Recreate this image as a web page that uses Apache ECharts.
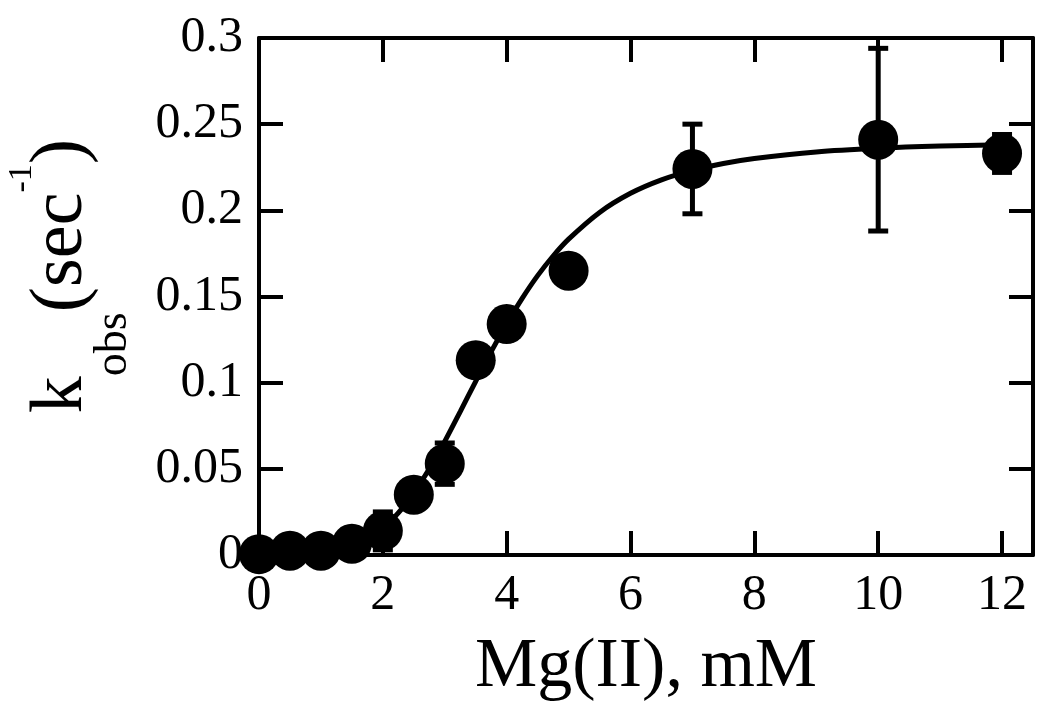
<!DOCTYPE html>
<html><head><meta charset="utf-8">
<script src="https://cdn.jsdelivr.net/npm/echarts@6/dist/echarts.min.js"></script>
<style>html,body{margin:0;padding:0;background:#fff}#c{width:1050px;height:716px}</style>
</head><body><div id="c"></div>
<script>
const mgConc = [0, 0.5, 1, 1.5, 2, 2.5, 3, 3.5, 4, 5, 7, 10, 12];
const kObs   = [0.0005, 0.0025, 0.0025, 0.0065, 0.014, 0.035, 0.053, 0.113, 0.134, 0.165, 0.224, 0.241, 0.233];
const kErr   = [0, 0, 0, 0, 0.011, 0, 0.012, 0, 0, 0, 0.026, 0.053, 0.011];
const fitX = [0, 0.5, 1, 1.5, 2, 2.25, 2.5, 2.75, 3, 3.25, 3.5, 3.75, 4, 4.25, 4.5, 4.75, 5, 5.5, 6, 6.5, 7, 7.5, 8, 9, 10, 11, 12];
const fitY = [0, 0.0001, 0.0009, 0.0048, 0.0155, 0.0244, 0.036, 0.05, 0.0659, 0.0832, 0.1008, 0.118, 0.1342, 0.1489, 0.1621, 0.1735, 0.1833, 0.1988, 0.2099, 0.2177, 0.2232, 0.2272, 0.2301, 0.2339, 0.236, 0.2373, 0.2381];
const xTicks = [0, 2, 4, 6, 8, 10, 12];
const yTicks = [0, 0.05, 0.1, 0.15, 0.2, 0.25, 0.3];
const xTitle = 'Mg(II), mM';

const FONT = '"Liberation Serif", "Times New Roman", serif';
const chart = echarts.init(document.getElementById('c'), null, {renderer: 'canvas'});

const pts = mgConc.map((x, i) => [x, kObs[i]]);
const errs = [];
mgConc.forEach((x, i) => { if (kErr[i] > 0) errs.push([x, kObs[i] - kErr[i], kObs[i] + kErr[i]]); });
const fit = fitX.map((x, i) => [x, fitY[i]]);

const axisLine = {show: true, onZero: false, lineStyle: {color: '#000', width: 4}};
const tickStyle = {lineStyle: {color: '#000', width: 4}};

chart.setOption({
  animation: false,
  backgroundColor: '#fff',
  grid: {left: 259, right: 17, top: 38, bottom: 161, containLabel: false},
  xAxis: [{
    type: 'value', min: 0, max: 12.5, interval: 2, position: 'bottom',
    name: xTitle, nameLocation: 'middle', nameGap: 78,
    nameTextStyle: {fontFamily: FONT, fontSize: 70, color: '#000'},
    axisLine: axisLine,
    axisTick: Object.assign({show: true, inside: true, length: 24, customValues: xTicks}, tickStyle),
    axisLabel: {show: true, customValues: xTicks, margin: 16, fontFamily: FONT, fontSize: 50, color: '#000'},
    splitLine: {show: false}
  }, {
    type: 'value', min: 0, max: 12.5, interval: 2, position: 'top',
    axisLine: axisLine,
    axisTick: Object.assign({show: true, inside: true, length: 24, customValues: xTicks}, tickStyle),
    axisLabel: {show: false},
    splitLine: {show: false}
  }],
  yAxis: [{
    type: 'value', min: 0, max: 0.3, interval: 0.05, position: 'left',
    axisLine: axisLine,
    axisTick: Object.assign({show: true, inside: true, length: 24, customValues: yTicks}, tickStyle),
    axisLabel: {show: true, customValues: yTicks, margin: 16, fontFamily: FONT, fontSize: 50, color: '#000'},
    splitLine: {show: false}
  }, {
    type: 'value', min: 0, max: 0.3, interval: 0.05, position: 'right',
    axisLine: axisLine,
    axisTick: Object.assign({show: true, inside: true, length: 24, customValues: yTicks}, tickStyle),
    axisLabel: {show: false},
    splitLine: {show: false}
  }],
  graphic: [{
    type: 'text', x: 62, y: 276, rotation: Math.PI / 2, z: 100,
    style: {
      text: '{k|k}{sub|obs}{p|(}{m|sec}{sup|-1}{p|)}',
      align: 'center', verticalAlign: 'middle', fill: '#000',
      rich: {
        k: {fontFamily: FONT, fontSize: 74, lineHeight: 150, verticalAlign: 'middle', fill: '#000'},
        m: {fontFamily: FONT, fontSize: 74, lineHeight: 150, verticalAlign: 'middle', fill: '#000'},
        p: {fontFamily: FONT, fontSize: 76, lineHeight: 150, verticalAlign: 'middle', fill: '#000'},
        sub: {fontFamily: FONT, fontSize: 46, verticalAlign: 'bottom', fill: '#000'},
        sup: {fontFamily: FONT, fontSize: 34, verticalAlign: 'top', padding: [18, 0, 0, 0], fill: '#000'}
      }
    }
  }],
  series: [{
    type: 'line', data: fit, xAxisIndex: 0, yAxisIndex: 0,
    showSymbol: false, symbol: 'none', smooth: 0.3, clip: false,
    lineStyle: {color: '#000', width: 5}, z: 2
  }, {
    type: 'custom', data: errs, xAxisIndex: 0, yAxisIndex: 0, clip: false, z: 3,
    encode: {x: 0, y: [1, 2]},
    renderItem: function (params, api) {
      const x = api.value(0);
      const lo = api.coord([x, api.value(1)]);
      const hi = api.coord([x, api.value(2)]);
      const w = 10;
      const st = {stroke: '#000', lineWidth: 5};
      return {type: 'group', children: [
        {type: 'line', shape: {x1: lo[0], y1: lo[1], x2: hi[0], y2: hi[1]}, style: st},
        {type: 'line', shape: {x1: lo[0] - w, y1: lo[1], x2: lo[0] + w, y2: lo[1]}, style: st},
        {type: 'line', shape: {x1: hi[0] - w, y1: hi[1], x2: hi[0] + w, y2: hi[1]}, style: st}
      ]};
    }
  }, {
    type: 'scatter', data: pts, xAxisIndex: 0, yAxisIndex: 0,
    symbol: 'circle', symbolSize: 40, clip: false, z: 4,
    itemStyle: {color: '#000', opacity: 1}
  }]
});
</script>
</body></html>
